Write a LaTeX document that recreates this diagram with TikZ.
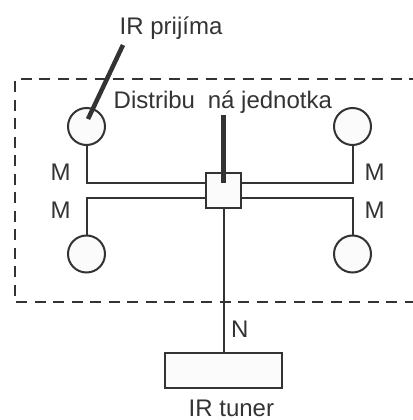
\documentclass[tikz,border=0pt]{standalone}
\usepackage{fontspec}
\setmainfont{Liberation Sans}
\definecolor{ink}{HTML}{333333}
\definecolor{paper}{HTML}{FBFBFB}
\tikzset{
  wire/.style={draw=ink, line width=2pt},
  heavy/.style={draw=ink, line width=4.5pt},
  frame/.style={draw=ink, line width=2pt, dash pattern=on 11pt off 7.5pt},
  rx/.style={circle, draw=ink, fill=paper, line width=2pt, minimum size=37pt, inner sep=0pt},
  hub/.style={rectangle, draw=ink, fill=paper, line width=2pt, minimum size=35pt, inner sep=0pt},
  tuner/.style={rectangle, draw=ink, fill=paper, line width=2pt, minimum width=117pt, minimum height=35pt, inner sep=0pt},
  lbl/.style={anchor=base west, inner sep=0pt, text=ink, font=\fontsize{24}{28}\selectfont},
}
\begin{document}
\begin{tikzpicture}[x=1pt, y=-1pt]
\useasboundingbox (0,0) rectangle (412,420);
% dashed frame
\draw[frame] (420,79) -- (15,79) -- (15,302) -- (420,302);
% nodes
\node[rx] (c1) at (86.5,126.5) {};
\node[rx] (c2) at (352.5,126.5) {};
\node[rx] (c3) at (86.5,254) {};
\node[rx] (c4) at (352.5,254) {};
\node[tuner] (tu) at (223.5,370.5) {};
\node[hub] (sq) at (223.5,190.5) {};
% connectors
\draw[wire] (c1.south) |- ([yshift=7.5pt]sq.west);
\draw[wire] (c2.south) |- ([yshift=7.5pt]sq.east);
\draw[wire] (c3.north) |- ([yshift=-7.5pt]sq.west);
\draw[wire] (c4.north) |- ([yshift=-7.5pt]sq.east);
\draw[wire] (sq.south) -- (tu.north);
\coordinate (dtop) at (223.5,115);
\draw[heavy] (dtop) -- ([yshift=7.5pt]sq.center);
\coordinate (irtop) at (123,45);
\coordinate (irend) at (88,119);
\draw[heavy] (irtop) -- (irend);
% labels
\node[lbl] (t1) at (119.5,34.3) {IR prijíma};
\node[lbl] (t2) at (113.5,108) {Distribu\hspace{12.8pt}ná jednotka};
\node[lbl] (m1) at (50.5,180) {M};
\node[lbl] (m2) at (50.5,218) {M};
\node[lbl] (m3) at (364.5,180) {M};
\node[lbl] (m4) at (364.5,218) {M};
\node[lbl] (n1) at (231,337) {N};
\node[lbl] (t3) at (188.5,416) {IR tuner};
\end{tikzpicture}
\end{document}
